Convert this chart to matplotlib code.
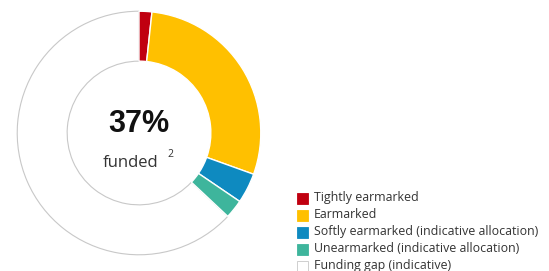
import matplotlib
matplotlib.use("Agg")
import matplotlib.pyplot as plt
from matplotlib.patches import Rectangle

categories = ["Tightly earmarked", "Earmarked", "Softly earmarked (indicative allocation)",
              "Unearmarked (indicative allocation)", "Funding gap (indicative)"]
values = [1.7, 28.8, 4.0, 2.5, 63.0]
colors = ["#C00010", "#FFC000", "#0E8AC0", "#3EB59C", "#FFFFFF"]
funded_label = "37%"
funded_text = "funded"

W, H = 549, 271
fig = plt.figure(figsize=(W / 100, H / 100), dpi=100)
fig.patch.set_facecolor("white")

cx, cy, r = 139, 271 - 133, 123
ax = fig.add_axes([(cx - r) / W, (cy - r) / H, 2 * r / W, 2 * r / H])
wedges, _ = ax.pie(values, colors=colors, startangle=90, counterclock=False,
                   radius=1.0, wedgeprops=dict(width=0.41, linewidth=1.0, edgecolor="white"))
wedges[-1].set_edgecolor("#c8c8c8")
wedges[-1].set_linewidth(0.8)
wedges[-1].set_zorder(0)
ax.set_xlim(-1.01, 1.01)
ax.set_ylim(-1.01, 1.01)
ax.set_aspect("equal")
ax.axis("off")

font = "Open Sans"
ax.text(0.0, 0.07, funded_label, ha="center", va="center", fontsize=22, fontweight="bold",
        color="#111111", family="Liberation Sans")
ax.text(-0.07, -0.245, funded_text, ha="center", va="center", fontsize=12,
        color="#333333", family=font)
ax.text(0.255, -0.175, "2", ha="center", va="center", fontsize=7.5, color="#333333", family=font)

row_y = [198, 215, 232, 249, 266]
for cat, col, y in zip(categories, colors, row_y):
    ec = "#c8c8c8" if col.upper() == "#FFFFFF" else col
    fig.patches.append(Rectangle((297 / W, (H - y - 5.5) / H), 11 / W, 11 / H,
                                 transform=fig.transFigure, facecolor=col, edgecolor=ec,
                                 linewidth=0.6, figure=fig))
    fig.text(314 / W, (H - y) / H, cat, ha="left", va="center", fontsize=8.9,
             color="#333333", family=font)

fig.savefig("out.png", dpi=100, facecolor="white")
